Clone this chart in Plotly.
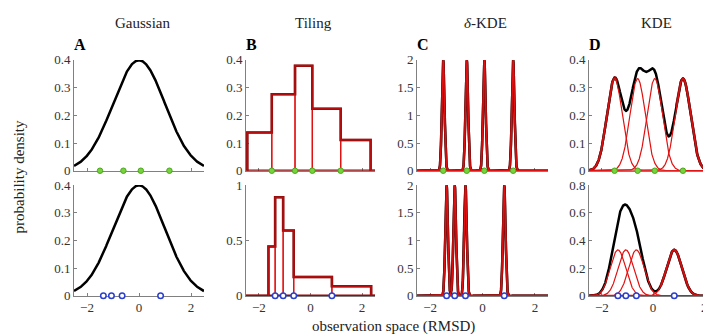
import numpy as np
import plotly.graph_objects as go

# ---------------- data ----------------
obs_top = [-1.50, -0.60, 0.07, 1.17]       # green observations (top row)
obs_bottom = [-1.37, -1.06, -0.65, 0.83]   # blue observations (bottom row)

gauss_mu = 0.0
gauss_sigma = 1.0

tile_edges_top = [-2.45, -1.50, -0.60, 0.07, 1.17, 2.33]
tile_heights_top = [0.138, 0.276, 0.379, 0.224, 0.111]
tile_edges_bottom = [-1.63, -1.37, -1.06, -0.65, 0.83, 2.35]
tile_heights_bottom = [0.446, 0.889, 0.589, 0.171, 0.086]

delta_bw = 0.05     # delta-KDE kernel width
kde_bw = 0.30       # KDE kernel width

titles = ["Gaussian", "Tiling", "<i>δ</i>-KDE", "KDE"]
letters = ["A", "B", "C", "D"]
x_ticks = [-2, 0, 2]
y_ranges_top = [0.4, 0.4, 2, 0.4]
y_ranges_bottom = [0.4, 1, 2, 0.8]
y_dticks_top = [0.1, 0.1, 0.5, 0.1]
y_dticks_bottom = [0.1, 0.5, 0.5, 0.2]

# ---------------- helpers ----------------
W, H = 711, 336
xs = np.linspace(-2.5, 2.5, 1001)


def npdf(x, m, s):
    return np.exp(-0.5 * ((x - m) / s) ** 2) / (s * np.sqrt(2 * np.pi))


FONT = "Liberation Serif"
SUM_C = "black"
DARK = "#920c0c"
SUM_W = 2.5
COMP_C = "#e21010"
COMP_W = 1.2
GREEN = dict(size=5.5, color="#78d23c", line=dict(color="#4aa81e", width=1))
BLUE = dict(size=5.5, color="white", line=dict(color="#2a3fd0", width=1.5))

xdom = [(66, 196), (238, 367), (409, 540), (581, 709)]
ydom = [(47, 163), (178, 294)]

fig = go.Figure()
layout = {}


def ax_names(i):
    n = "" if i == 1 else str(i)
    return "x" + n, "y" + n, "xaxis" + n, "yaxis" + n


def add(trace, i):
    xn, yn, _, _ = ax_names(i)
    trace.update(xaxis=xn, yaxis=yn, showlegend=False, cliponaxis=False,
                 hoverinfo="skip")
    fig.add_trace(trace)


for row, (pts, mk, edges, heights, yr, dt) in enumerate([
        (obs_top, GREEN, tile_edges_top, tile_heights_top, y_ranges_top, y_dticks_top),
        (obs_bottom, BLUE, tile_edges_bottom, tile_heights_bottom, y_ranges_bottom, y_dticks_bottom)]):
    n = len(pts)
    for col in range(4):
        i = row * 4 + col + 1
        xn, yn, xa, ya = ax_names(i)
        x0, x1 = xdom[col]
        y0, y1 = ydom[row]
        layout[xa] = dict(
            domain=[x0 / W, x1 / W], range=[-2.5, 2.5], anchor=yn,
            tickvals=x_ticks, showticklabels=(row == 1), ticks="inside",
            ticklen=3, tickcolor="#808080", showline=True, linecolor="#808080",
            linewidth=1, showgrid=False, zeroline=False, layer="below traces",
            tickfont=dict(family=FONT, size=13, color="#333333"))
        layout[ya] = dict(
            domain=[1 - y1 / H, 1 - y0 / H], range=[0, yr[col]], anchor=xn,
            dtick=dt[col], tick0=0, ticks="inside", ticklen=3,
            tickcolor="#808080", showline=True, linecolor="#808080",
            linewidth=1, showgrid=False, zeroline=False, layer="below traces",
            tickfont=dict(family=FONT, size=13, color="#333333"))

        if col == 0:
            add(go.Scatter(x=xs, y=npdf(xs, gauss_mu, gauss_sigma), mode="lines",
                           line=dict(color=SUM_C, width=SUM_W)), i)
        elif col == 1:
            sx = [-2.5, edges[0]]
            sy = [0, 0]
            for k, h in enumerate(heights):
                sx += [edges[k], edges[k + 1]]
                sy += [h, h]
            sx += [edges[-1], 2.5]
            sy += [0, 0]
            add(go.Scatter(x=sx, y=sy, mode="lines",
                           line=dict(color=DARK, width=SUM_W)), i)
            add(go.Scatter(x=[edges[0], edges[-1]], y=[0, 0], mode="lines",
                           line=dict(color=DARK, width=SUM_W)), i)
            for k, h in enumerate(heights):
                a, b = edges[k], edges[k + 1]
                add(go.Scatter(x=[a, a, b, b], y=[0, h, h, 0], mode="lines",
                               line=dict(color=COMP_C, width=COMP_W)), i)
            # re-draw the outline tops in dark red over the thin tile tops
            add(go.Scatter(x=sx, y=sy, mode="lines",
                           line=dict(color="rgba(146,12,12,0.55)", width=SUM_W)), i)
        else:
            bw = delta_bw if col == 2 else kde_bw
            comps = np.array([npdf(xs, p, bw) / n for p in pts])
            total = comps.sum(axis=0)
            dom = comps.max(axis=0) / total
            add(go.Scatter(x=xs, y=total, mode="lines",
                           line=dict(color=SUM_C, width=SUM_W)), i)
            add(go.Scatter(x=xs, y=np.where(dom > 0.97, total, np.nan), mode="lines",
                           line=dict(color=DARK, width=SUM_W)), i)
            for c in comps:
                add(go.Scatter(x=xs, y=c, mode="lines",
                               line=dict(color=COMP_C, width=COMP_W)), i)
        add(go.Scatter(x=pts, y=[0] * n, mode="markers", marker=mk), i)

ann = []
for col in range(4):
    x0, x1 = xdom[col]
    ann.append(dict(text=titles[col], x=(x0 + x1) / 2 / W + 3 / W, y=1 - 8 / H,
                    xref="paper", yref="paper", showarrow=False,
                    xanchor="center", yanchor="middle",
                    font=dict(family=FONT, size=15, color="#222222")))
    ann.append(dict(text="<b>" + letters[col] + "</b>", x=(x0 - 2) / W, y=1 - 31 / H,
                    xref="paper", yref="paper", showarrow=False,
                    xanchor="left", yanchor="middle",
                    font=dict(family=FONT, size=16, color="black")))
ann.append(dict(text="probability density", x=11 / W, y=1 - 170 / H, textangle=-90,
                xref="paper", yref="paper", showarrow=False,
                xanchor="center", yanchor="middle",
                font=dict(family=FONT, size=15, color="#222222")))
ann.append(dict(text="observation space (RMSD)", x=386 / W, y=1 - 326 / H,
                xref="paper", yref="paper", showarrow=False,
                xanchor="center", yanchor="middle",
                font=dict(family=FONT, size=15, color="#222222")))

fig.update_layout(width=W, height=H, margin=dict(l=0, r=0, t=0, b=0),
                  plot_bgcolor="white", paper_bgcolor="white",
                  font=dict(family=FONT, size=13, color="#333333"),
                  annotations=ann, **layout)
fig.write_html("out.html")
